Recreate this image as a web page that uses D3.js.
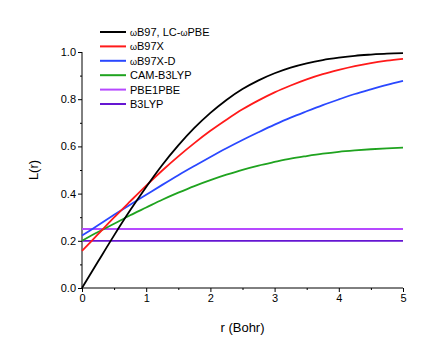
<!DOCTYPE html>
<html>
<head>
<meta charset="utf-8">
<script src="https://cdn.jsdelivr.net/npm/d3@7"></script>
<style>
  body { margin: 0; background: #fff; }
  text { font-family: "Liberation Sans", Arial, sans-serif; }
</style>
</head>
<body>
<div id="chart"></div>
<script>
// r values (Bohr)
var rValues = [0, 0.25, 0.5, 0.75, 1, 1.25, 1.5, 1.75, 2, 2.25, 2.5, 2.75, 3, 3.25, 3.5, 3.75, 4, 4.25, 4.5, 4.75, 5];

// L(r)
var wb97 = [0, 0.112, 0.223, 0.329, 0.428, 0.521, 0.604, 0.678, 0.742, 0.797, 0.843, 0.880, 0.910, 0.934, 0.952, 0.966, 0.976, 0.984, 0.989, 0.993, 0.995];
var wb97x = [0.157, 0.228, 0.299, 0.367, 0.434, 0.498, 0.558, 0.614, 0.666, 0.713, 0.757, 0.795, 0.829, 0.858, 0.884, 0.906, 0.924, 0.940, 0.953, 0.963, 0.971];
var wb97xd = [0.222, 0.266, 0.310, 0.353, 0.395, 0.437, 0.478, 0.517, 0.555, 0.592, 0.627, 0.660, 0.692, 0.722, 0.749, 0.775, 0.799, 0.822, 0.842, 0.861, 0.878];
var camb3lyp = [0.200, 0.237, 0.272, 0.308, 0.341, 0.374, 0.404, 0.432, 0.457, 0.480, 0.501, 0.519, 0.534, 0.548, 0.559, 0.569, 0.577, 0.583, 0.588, 0.592, 0.595];
var pbe1pbe = [0.25, 0.25];
var b3lyp = [0.2, 0.2];
var constR = [0, 5];

// legend labels, split so the omega can be drawn smaller
var seriesNames = [
	[["\u03c9", true], ["B97, LC-", false], ["\u03c9", true], ["PBE", false]],
	[["\u03c9", true], ["B97X", false]],
	[["\u03c9", true], ["B97X-D", false]],
	[["CAM-B3LYP", false]],
	[["PBE1PBE", false]],
	[["B3LYP", false]]
];
var seriesColors = ["#000000", "#ff1a1a", "#2a48ff", "#1fa31f", "#b649ff", "#6516d2"];

var xTicks = [0, 1, 2, 3, 4, 5];
var yTicks = [0, 0.2, 0.4, 0.6, 0.8, 1.0];

var w = 436, h = 357;
var margin = {left: 82, right: 33, top: 52, bottom: 69};

var svg = d3.select("#chart")
	.append("svg")
	.attr("width", w)
	.attr("height", h);

var x = d3.scaleLinear().domain([0, 5]).range([margin.left, w - margin.right]);
var y = d3.scaleLinear().domain([0, 1]).range([h - margin.bottom, margin.top]);

// x axis
var xAxis = svg.append("g")
	.attr("transform", "translate(0," + y(0) + ")")
	.call(d3.axisBottom(x).tickValues(xTicks).tickFormat(d3.format("d")).tickSize(4).tickPadding(2));
svg.append("g")
	.attr("transform", "translate(0," + y(0) + ")")
	.call(d3.axisBottom(x).tickValues(d3.range(0.5, 5, 1)).tickFormat("").tickSize(2))
	.select(".domain").remove();

// y axis
var yAxis = svg.append("g")
	.attr("transform", "translate(" + x(0) + ",0)")
	.call(d3.axisLeft(y).tickValues(yTicks).tickFormat(d3.format(".1f")).tickSize(4).tickPadding(2));
svg.append("g")
	.attr("transform", "translate(" + x(0) + ",0)")
	.call(d3.axisLeft(y).tickValues(d3.range(0.1, 1, 0.2)).tickFormat("").tickSize(2))
	.select(".domain").remove();

svg.selectAll(".tick text")
	.attr("font-size", "11px")
	.attr("font-family", "Liberation Sans, Arial, sans-serif")
	.attr("fill", "#000");
svg.selectAll(".domain, .tick line").attr("stroke", "#000").attr("stroke-width", 1);
xAxis.select(".domain").attr("d", "M" + x(0) + ",0H" + x(5));
yAxis.select(".domain").attr("d", "M0," + y(0) + "V" + y(1));

// axis titles
svg.append("text")
	.attr("x", (x(0) + x(5)) / 2)
	.attr("y", 332)
	.attr("text-anchor", "middle")
	.attr("font-size", "13px")
	.text("r (Bohr)");
svg.append("text")
	.attr("transform", "translate(38," + y(0.5) + ") rotate(-90)")
	.attr("text-anchor", "middle")
	.attr("font-size", "13px")
	.text("L(r)");

// curves
var line = d3.line()
	.x(function(d) { return x(d[0]); })
	.y(function(d) { return y(d[1]); })
	.curve(d3.curveMonotoneX);

var curves = [
	d3.zip(rValues, wb97),
	d3.zip(rValues, wb97x),
	d3.zip(rValues, wb97xd),
	d3.zip(rValues, camb3lyp),
	d3.zip(constR, pbe1pbe),
	d3.zip(constR, b3lyp)
];

// draw flat lines first, then curves on top
var order = [4, 5, 3, 2, 1, 0];
order.forEach(function(i) {
	svg.append("path")
		.attr("d", line(curves[i]))
		.attr("fill", "none")
		.attr("stroke", seriesColors[i])
		.attr("stroke-width", 1.8);
});

// legend
var legend = svg.append("g").attr("transform", "translate(100,32)");
seriesNames.forEach(function(parts, i) {
	var g = legend.append("g").attr("transform", "translate(0," + (i * 14.4) + ")");
	g.append("line")
		.attr("x1", 0).attr("x2", 26)
		.attr("y1", 0).attr("y2", 0)
		.attr("stroke", seriesColors[i])
		.attr("stroke-width", 2);
	var t = g.append("text")
		.attr("x", 30)
		.attr("y", 4)
		.attr("font-size", "11px");
	parts.forEach(function(p) {
		t.append("tspan")
			.attr("font-size", p[1] ? "9px" : "11px")
			.text(p[0]);
	});
});
</script>
</body>
</html>
